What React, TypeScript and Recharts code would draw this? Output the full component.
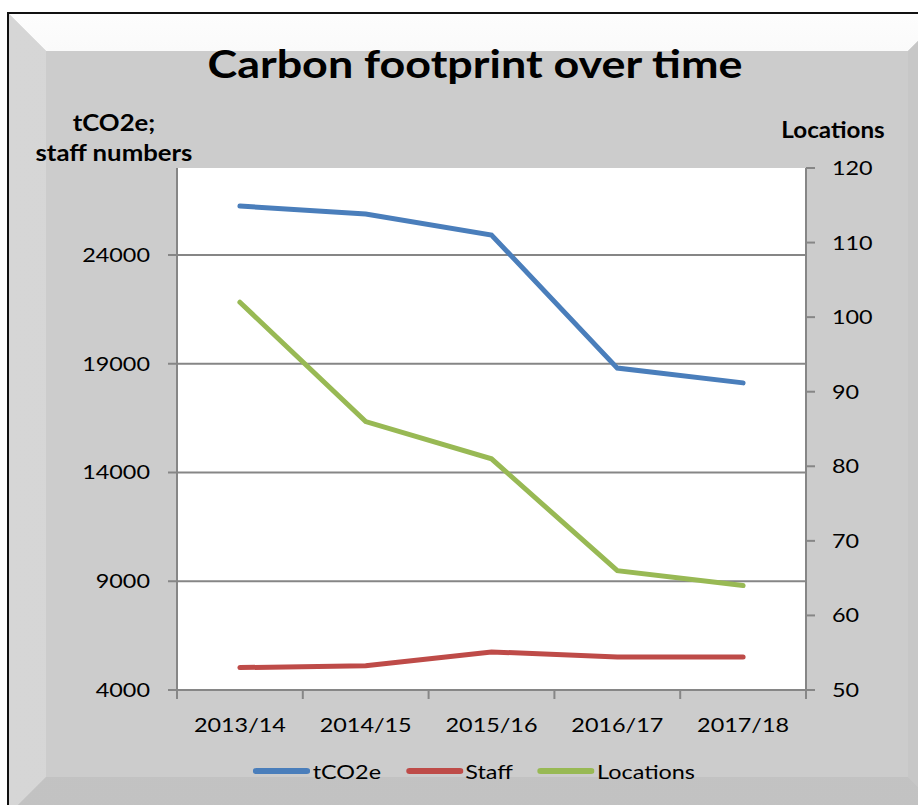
import { CartesianGrid, Legend, Line, LineChart, XAxis, YAxis } from 'recharts';

const years = ['2013/14', '2014/15', '2015/16', '2016/17', '2017/18'];
const tco2e = [26250, 25880, 24920, 18800, 18120];
const staff = [5030, 5120, 5750, 5520, 5520];
const locations = [102, 86, 81, 66, 64];

const leftTicks = [4000, 9000, 14000, 19000, 24000];
const rightTicks = [50, 60, 70, 80, 90, 100, 110, 120];
const xTicks = [0, 0.5, 1, 1.5, 2, 2.5, 3, 3.5, 4, 4.5, 5];

const series = [
  { key: 'tco2e', name: 'tCO2e', color: '#4a7ebb', axis: 'left' },
  { key: 'staff', name: 'Staff', color: '#be4b48', axis: 'left' },
  { key: 'locations', name: 'Locations', color: '#98b954', axis: 'right' },
];

const data = years.map((year, i) => ({
  year,
  pos: i + 0.5,
  tco2e: tco2e[i],
  staff: staff[i],
  locations: locations[i],
}));

const FONT = 'Lato, "Open Sans", sans-serif';
const AXIS = '#868686';
const SX = 1.17; // the reference text is drawn a little wider than Lato

function WideText({ x, y, anchor, children }: any) {
  return (
    <text
      x={x}
      y={y}
      textAnchor={anchor}
      fontSize={20}
      fontFamily={FONT}
      fill="#000"
      transform={`translate(${x} ${y}) scale(${SX} 1) translate(${-x} ${-y})`}
    >
      {children}
    </text>
  );
}

function XTick(props: any) {
  const { x, y, payload } = props;
  const v = payload.value as number;
  if (Number.isInteger(v)) {
    return <line x1={x} y1={y} x2={x} y2={y + 9} stroke={AXIS} strokeWidth={2} />;
  }
  return (
    <WideText x={x} y={y + 42} anchor="middle">
      {years[Math.floor(v)]}
    </WideText>
  );
}

function YTick(props: any) {
  const { x, y, payload, anchor } = props;
  return (
    <WideText x={x} y={y + 7} anchor={anchor}>
      {payload.value}
    </WideText>
  );
}

function LegendContent() {
  return (
    <div
      style={{
        display: 'flex',
        justifyContent: 'center',
        fontFamily: FONT,
        fontSize: 20,
        transform: `scaleX(${SX})`,
        transformOrigin: '474px 0',
      }}
    >
      {series.map((s, i) => (
        <span key={s.key} style={{ display: 'flex', alignItems: 'center', marginLeft: i === 0 ? 0 : 21 }}>
          <svg width={49} height={10}>
            <line x1={3} y1={5} x2={46} y2={5} stroke={s.color} strokeWidth={6} strokeLinecap="round" />
          </svg>
          <span style={{ marginLeft: 2 }}>{s.name}</span>
        </span>
      ))}
    </div>
  );
}

function Frame() {
  const W = 936;
  const H = 800;
  const b = 37;
  const band = (clip: string, bg: string) => (
    <div style={{ position: 'absolute', inset: 0, clipPath: clip, background: bg }} />
  );
  return (
    <div
      style={{
        position: 'absolute',
        left: 7,
        top: 12,
        width: W,
        height: H,
        background: '#cccccc',
        borderLeft: '2px solid #111',
        borderTop: '2px solid #111',
      }}
    >
      {band(
        `polygon(0 0, ${W}px 0, ${W - b}px ${b}px, ${b}px ${b}px)`,
        'linear-gradient(to bottom, #fdfdfd 0%, #e6e6e6 35%, #d0d0d0 100%)',
      )}
      {band(`polygon(0 0, ${b}px ${b}px, ${b}px ${H - b}px, 0 ${H}px)`, 'linear-gradient(to right, #d6d6d6, #d1d1d1)')}
      {band(`polygon(${W}px 0, ${W - b}px ${b}px, ${W - b}px ${H - b}px, ${W}px ${H}px)`, '#c7c7c7')}
      {band(
        `polygon(0 ${H}px, ${b}px ${H - b}px, ${W - b}px ${H - b}px, ${W}px ${H}px)`,
        'linear-gradient(to bottom, #c9c9c9, #c2c2c2)',
      )}
    </div>
  );
}

export default function App() {
  return (
    <div
      style={{
        position: 'fixed',
        left: 0,
        top: 0,
        width: 918,
        height: 805,
        overflow: 'hidden',
        background: '#fff',
        fontFamily: FONT,
      }}
    >
      <Frame />
      <div
        style={{
          position: 'absolute',
          left: 0,
          top: 40,
          width: 950,
          textAlign: 'center',
          fontSize: 39,
          fontWeight: 700,
          transform: `scaleX(1.15)`,
        }}
      >
        Carbon footprint over time
      </div>
      <div
        style={{
          position: 'absolute',
          left: 14,
          top: 108,
          width: 200,
          textAlign: 'center',
          fontSize: 22,
          fontWeight: 700,
          lineHeight: '30px',
          transform: `scaleX(${SX})`,
        }}
      >
        tCO2e;
        <br />
        staff numbers
      </div>
      <div
        style={{
          position: 'absolute',
          left: 763,
          top: 116,
          width: 140,
          textAlign: 'center',
          fontSize: 22,
          fontWeight: 700,
          lineHeight: '28px',
          transform: 'scaleX(1.1)',
        }}
      >
        Locations
      </div>
      <div style={{ position: 'absolute', left: 0, top: 0 }}>
        <LineChart width={918} height={805} data={data} margin={{ top: 168, right: 52, bottom: 0, left: 57 }}>
          <CartesianGrid
            yAxisId="left"
            vertical={false}
            stroke={AXIS}
            strokeWidth={2}
            fill="#ffffff"
            fillOpacity={1}
            horizontalValues={leftTicks}
          />
          <XAxis
            dataKey="pos"
            type="number"
            domain={[0, 5]}
            ticks={xTicks}
            interval={0}
            height={115}
            tickSize={0}
            tickMargin={0}
            tick={<XTick />}
            axisLine={{ stroke: AXIS, strokeWidth: 2 }}
            tickLine={false}
          />
          <YAxis
            yAxisId="left"
            orientation="left"
            width={120}
            domain={[4000, 28000]}
            ticks={leftTicks}
            interval={0}
            tickSize={9}
            tickMargin={18}
            axisLine={{ stroke: AXIS, strokeWidth: 2 }}
            tickLine={{ stroke: AXIS, strokeWidth: 2 }}
            tick={<YTick anchor="end" />}
          />
          <YAxis
            yAxisId="right"
            orientation="right"
            width={60}
            domain={[50, 120]}
            ticks={rightTicks}
            interval={0}
            tickSize={9}
            tickMargin={17}
            axisLine={{ stroke: AXIS, strokeWidth: 2 }}
            tickLine={{ stroke: AXIS, strokeWidth: 2 }}
            tick={<YTick anchor="start" />}
          />
          <Legend
            layout="horizontal"
            verticalAlign="middle"
            align="center"
            content={<LegendContent />}
            wrapperStyle={{ top: 759, left: 0, width: 948 }}
          />
          {series.map((s) => (
            <Line
              key={s.key}
              yAxisId={s.axis}
              dataKey={s.key}
              name={s.name}
              type="linear"
              stroke={s.color}
              strokeWidth={5}
              dot={false}
              activeDot={false}
              strokeLinecap="round"
              isAnimationActive={false}
            />
          ))}
        </LineChart>
      </div>
    </div>
  );
}
